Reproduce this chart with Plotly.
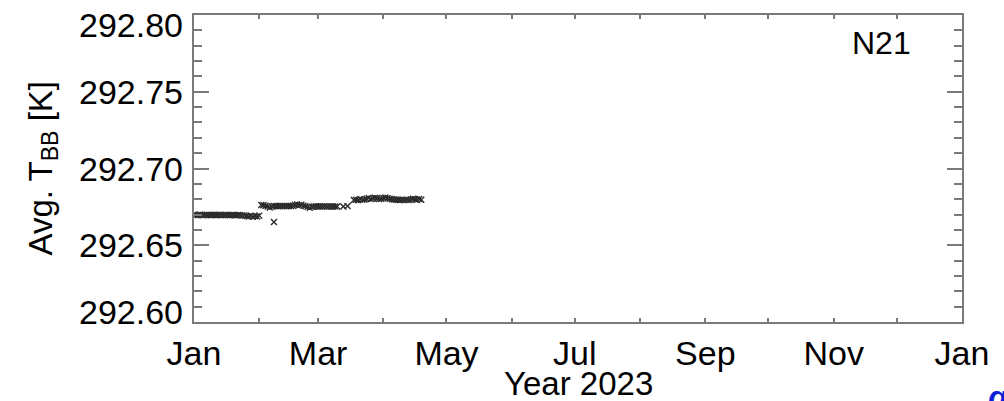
import plotly.graph_objects as go
import pandas as pd

# ---- data ----
days_seg1 = [0, 1, 2, 3, 4, 5, 6, 7, 8, 9, 10, 11, 12, 13, 14, 15, 16, 17, 18, 19,
             20, 21, 22, 23, 24, 25, 26, 27, 28, 29, 30, 31]
vals_seg1 = [292.6698, 292.6697, 292.6697, 292.6698, 292.6696, 292.6697, 292.6698, 292.6697,
             292.6696, 292.6697, 292.6698, 292.6697, 292.6697, 292.6696, 292.6697, 292.6698,
             292.6697, 292.6696, 292.6697, 292.6697, 292.6696, 292.6697, 292.6695, 292.6694,
             292.6694, 292.6690, 292.6687, 292.6692, 292.6686, 292.6691, 292.6688, 292.6693]

days_seg2 = [32, 33, 34, 35, 36, 37, 38, 39, 40, 41, 42, 43, 44, 45, 46, 47, 48, 49, 50,
             51, 52, 53, 54, 55, 56, 57, 58, 59, 60, 61, 62, 63, 64, 65, 66, 67, 68]
vals_seg2 = [292.6762, 292.6760, 292.6758, 292.6752, 292.6746, 292.6752, 292.6755, 292.6755,
             292.6754, 292.6756, 292.6755, 292.6755, 292.6754, 292.6756, 292.6755, 292.6758,
             292.6763, 292.6765, 292.6761, 292.6764, 292.6758, 292.6754, 292.6750, 292.6745,
             292.6750, 292.6753, 292.6754, 292.6753, 292.6752, 292.6753, 292.6754, 292.6752,
             292.6753, 292.6752, 292.6753, 292.6752, 292.6752]

days_outlier = [38]
vals_outlier = [292.6651]

days_seg2b = [71, 73]
vals_seg2b = [292.6753, 292.6755]

days_seg3 = [76, 77, 78, 79, 80, 81, 82, 83, 84, 85, 86, 87, 88, 89, 90, 91, 92, 93, 94,
             95, 96, 97, 98, 99, 100, 101, 102, 103, 104, 105, 106, 107, 108]
vals_seg3 = [292.6795, 292.6797, 292.6794, 292.6800, 292.6796, 292.6798, 292.6803, 292.6808,
             292.6802, 292.6805, 292.6810, 292.6806, 292.6801, 292.6803, 292.6808, 292.6811,
             292.6806, 292.6803, 292.6800, 292.6798, 292.6796, 292.6797, 292.6795, 292.6796,
             292.6794, 292.6797, 292.6795, 292.6798, 292.6803, 292.6799, 292.6796, 292.6801,
             292.6797]

y_tick_vals = [292.60, 292.65, 292.70, 292.75, 292.80]
y_tick_text = ["292.60", "292.65", "292.70", "292.75", "292.80"]
panel_label = "N21"
x_title = "Year 2023"
y_title = "Avg. T<sub>BB</sub> [K]"

# ---- build ----
all_days = days_seg1 + days_seg2 + days_outlier + days_seg2b + days_seg3
all_vals = vals_seg1 + vals_seg2 + vals_outlier + vals_seg2b + vals_seg3
dates = pd.Timestamp("2023-01-01") + pd.to_timedelta(all_days, unit="D")

FONT = "Liberation Sans, Arial, Helvetica, sans-serif"
AX = "#7a7a7a"

fig = go.Figure()
fig.add_trace(go.Scatter(
    x=dates, y=all_vals, mode="markers",
    marker=dict(symbol="x-thin", size=6, color="#2a2a2a",
                line=dict(width=1.4, color="#2a2a2a")),
    showlegend=False, hoverinfo="x+y",
))

fig.update_layout(
    width=1004, height=401,
    margin=dict(l=194, r=42, t=15, b=79),
    paper_bgcolor="white", plot_bgcolor="white",
    font=dict(family=FONT, size=34, color="black"),
)

fig.update_xaxes(
    type="date", range=["2023-01-01", "2024-01-01"],
    tick0="2023-01-01", dtick="M2", tickformat="%b",
    ticks="inside", ticklen=4, tickwidth=1.5, tickcolor=AX,
    minor=dict(dtick="M1", ticks="inside", ticklen=4, tickwidth=1.5, tickcolor=AX),
    showline=True, linecolor=AX, linewidth=2, mirror="allticks",
    showgrid=False, zeroline=False, automargin=False,
    tickfont=dict(size=34, family=FONT, color="black"),
    ticklabelstandoff=0,
)

fig.update_yaxes(
    range=[292.60, 292.80], tickvals=y_tick_vals, showticklabels=False,
    ticks="inside", ticklen=15, tickwidth=2, tickcolor=AX,
    minor=dict(dtick=0.01, tick0=292.60, ticks="inside", ticklen=8, tickwidth=1.5, tickcolor=AX),
    showline=True, linecolor=AX, linewidth=2, mirror="allticks",
    showgrid=False, zeroline=False, automargin=False,
)

# y tick labels (end labels nudged inward as in the reference)
for i, (v, t) in enumerate(zip(y_tick_vals, y_tick_text)):
    shift = 0
    if i == 0:
        shift = 10
    elif i == len(y_tick_vals) - 1:
        shift = -10
    fig.add_annotation(x=0, xref="paper", y=v, yref="y", text=t, showarrow=False,
                       xanchor="right", yanchor="middle", xshift=-9, yshift=shift,
                       font=dict(size=34, family=FONT, color="black"))

# x axis title
fig.add_annotation(x=0.5, xref="paper", y=-0.2, yref="paper", text=x_title, showarrow=False,
                   xanchor="center", yanchor="middle",
                   font=dict(size=33, family=FONT, color="black"))

# y axis title
fig.add_annotation(x=0, xref="paper", y=0.5, yref="paper", text=y_title, showarrow=False,
                   textangle=-90, xanchor="center", yanchor="middle", xshift=-152,
                   font=dict(size=33, family=FONT, color="black"))

# panel label
fig.add_annotation(x=0.8958, xref="paper", y=0.9088, yref="paper", text=panel_label,
                   showarrow=False, xanchor="center", yanchor="middle",
                   font=dict(size=32, family=FONT, color="black"))

# cropped blue glyph at bottom-right
fig.add_annotation(x=1.0456, xref="paper", y=-0.18, yref="paper", text="<b><i>g</i></b>",
                   showarrow=False, xanchor="center", yanchor="top",
                   font=dict(size=32, family=FONT, color="#0a1fd8"))

fig.write_html("out.html")
